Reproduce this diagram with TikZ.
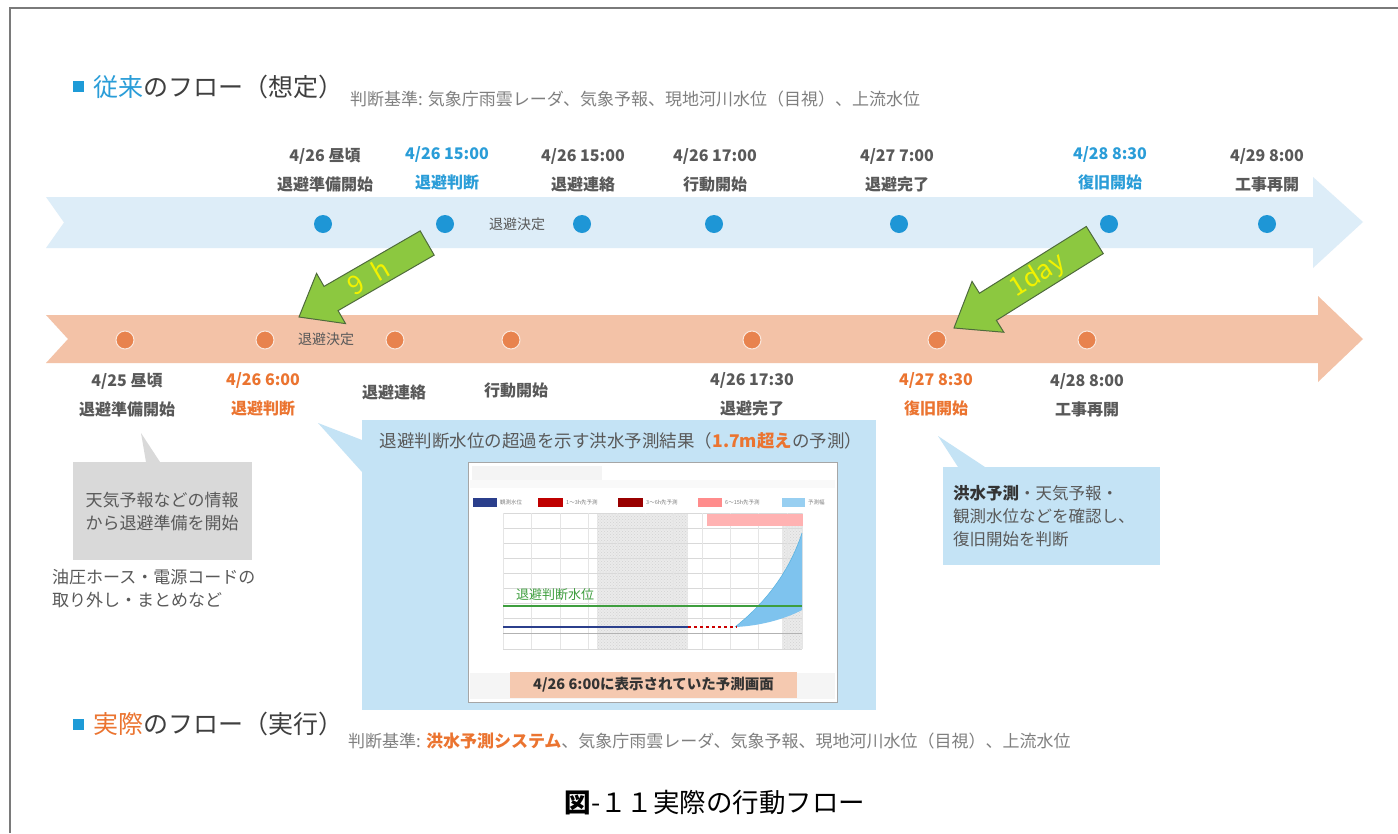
\documentclass[tikz,border=0pt]{standalone}
\usepackage{fontspec}
\setmainfont{Noto Sans CJK JP}
\usetikzlibrary{patterns}
\definecolor{hblue}{HTML}{2A9DD8}
\definecolor{dotblue}{HTML}{1E96D6}
\definecolor{bandblue}{HTML}{DDEDF8}
\definecolor{bandsalmon}{HTML}{F3C2A7}
\definecolor{dotorange}{HTML}{E8834E}
\definecolor{orng}{HTML}{EB7430}
\definecolor{txtgray}{HTML}{595959}
\definecolor{subgray}{HTML}{7F7F7F}
\definecolor{titlegray}{HTML}{3F3F3F}
\definecolor{callblue}{HTML}{C4E3F5}
\definecolor{callgray}{HTML}{D9D9D9}
\definecolor{garrowfill}{HTML}{8CC840}
\definecolor{garrowline}{HTML}{4F6B3C}
\definecolor{yel}{HTML}{F2F200}
\definecolor{framec}{HTML}{7A7A7A}
\definecolor{darktext}{HTML}{333333}
\definecolor{salmonlbl}{HTML}{F5C9B0}
\definecolor{chartgreen}{HTML}{3E9E3E}
\definecolor{navyline}{HTML}{2B3F8C}
\definecolor{fcblue}{HTML}{7EC3EE}
\definecolor{sqblue}{HTML}{1E9BD7}
\tikzset{
  bdot/.style={circle, fill=dotblue, minimum size=18pt, inner sep=0pt},
  odot/.style={circle, fill=dotorange, draw=white!60!bandsalmon, line width=1pt, minimum size=18pt, inner sep=0pt},
  lbl/.style={align=center, inner sep=0pt, font=\bfseries\fontsize{16}{29}\selectfont, text=txtgray},
  lblblue/.style={lbl, text=hblue},
  lblorange/.style={lbl, text=orng},
  bandtxt/.style={inner sep=0pt, font=\fontsize{14}{14}\selectfont, text=txtgray},
  titletxt/.style={anchor=west, inner sep=0pt, font=\fontsize{25}{25}\selectfont, text=titlegray},
  subt/.style={anchor=west, inner sep=0pt, font=\fontsize{17}{17}\selectfont, text=subgray},
  garrow/.style={fill=garrowfill, draw=garrowline, line width=1pt, line join=miter},
  glabel/.style={inner sep=0pt, font=\fontsize{26}{26}\selectfont, text=yel},
  tiny/.style={anchor=west, inner sep=0pt, font=\fontsize{5.5}{5.5}\selectfont, text=gray},
}
\begin{document}
\begin{tikzpicture}[x=1pt,y=-1pt]
\useasboundingbox (0,0) rectangle (1398,833);
\fill[white] (0,0) rectangle (1398,833);
\draw[framec, line width=1.5pt] (10,833) -- (10,8) -- (1398,8);

% ---------- titles ----------
\fill[sqblue] (73,81) rectangle (84,92);
\node[titletxt] (t1) at (93,87) {\textcolor{hblue}{従来}のフロー（想定）};
\node[subt] (s1) at (350,99) {判断基準: 気象庁雨雲レーダ、気象予報、現地河川水位（目視）、上流水位};

\fill[sqblue] (73,719) rectangle (84,730);
\node[titletxt] (t2) at (93,724) {\textcolor{orng}{実際}のフロー（実行）};
\node[subt] (s2) at (348,741) {判断基準: \textcolor{orng}{\bfseries 洪水予測システム}、気象庁雨雲レーダ、気象予報、現地河川水位（目視）、上流水位};

% ---------- bands ----------
\fill[bandblue] (46,197) -- (1313,197) -- (1313,177) -- (1363,222) -- (1313,268) -- (1313,248) -- (46,248) -- (64,222.5) -- cycle;
\fill[bandsalmon] (46,315) -- (1318,315) -- (1318,296) -- (1363,339) -- (1318,382) -- (1318,363) -- (46,363) -- (68,339) -- cycle;

% ---------- top row ----------
\foreach \x/\n in {323/1,445/2,582/3,714/4,899/5,1109/6,1267/7}
  \node[bdot] (td\n) at (\x,224) {};
\node[bandtxt] (tdec) at (517,224) {退避決定};
\node[lbl] (tl1) at (325,170.5) {4/26 昼頃\\退避準備開始};
\node[lblblue] (tl2) at (447,168.5) {4/26 15:00\\退避判断};
\node[lbl] (tl3) at (583,170.5) {4/26 15:00\\退避連絡};
\node[lbl] (tl4) at (715,170.5) {4/26 17:00\\行動開始};
\node[lbl] (tl5) at (897,170.5) {4/27 7:00\\退避完了};
\node[lblblue] (tl6) at (1110,168.5) {4/28 8:30\\復旧開始};
\node[lbl] (tl7) at (1267,170.5) {4/29 8:00\\工事再開};

% ---------- bottom row ----------
\foreach \x/\n in {125/1,265/2,395/3,511/4,752/5,937/6,1087/7}
  \node[odot] (bd\n) at (\x,340) {};
\node[bandtxt] (bdec) at (326,339) {退避決定};
\node[lbl] (bl1) at (127,395.5) {4/25 昼頃\\退避準備開始};
\node[lblorange] (bl2) at (263,394.5) {4/26 6:00\\退避判断};
\node[lbl] (bl3) at (394,392) {退避連絡};
\node[lbl] (bl4) at (516,390) {行動開始};
\node[lbl] (bl5) at (752,394.5) {4/26 17:30\\退避完了};
\node[lblorange] (bl6) at (936,394.5) {4/27 8:30\\復旧開始};
\node[lbl] (bl7) at (1087,395.5) {4/28 8:00\\工事再開};

% ---------- green arrows ----------
\begin{scope}[shift={(299,317)}, rotate=30]
  \filldraw[garrow] (0,0) -- (37,29) -- (37,14) -- (148,14) -- (148,-14) -- (37,-14) -- (37,-29) -- cycle;
  \node[glabel, rotate=30] (g1lbl) at (80,0) {9\enspace h};
\end{scope}
\begin{scope}[shift={(954,328)}, rotate=32]
  \filldraw[garrow] (0,0) -- (40,30) -- (40,16) -- (166,16) -- (166,-16) -- (40,-16) -- (40,-30) -- cycle;
  \node[glabel, rotate=32] (g2lbl) at (99,0) {1day};
\end{scope}

% ---------- left gray callout ----------
\fill[callgray] (141,433) -- (146,462) -- (160,462) -- cycle;
\node[fill=callgray, anchor=north west, minimum width=179pt, minimum height=98pt, inner sep=0pt] (lbox) at (73,462) {};
\node[align=center, inner sep=0pt, font=\fontsize{17}{23.5}\selectfont, text=txtgray] (ltext) at (162,511.5) {天気予報などの情報\\から退避準備を開始};
\node[anchor=north west, align=left, inner sep=0pt, font=\fontsize{17}{23}\selectfont, text=txtgray] (lnote) at (52,569) {油圧ホース・電源コードの\\取り外し・まとめなど};

% ---------- center blue callout ----------
\fill[callblue] (318,423) -- (362,440) -- (362,472) -- cycle;
\node[fill=callblue, anchor=north west, minimum width=514pt, minimum height=290pt, inner sep=0pt] (cbox) at (362,420) {};
\node[inner sep=0pt, font=\fontsize{17.5}{17.5}\selectfont, text=txtgray] (ctitle) at (621,441) {退避判断水位の超過を示す洪水予測結果（\textcolor{orng}{\bfseries 1.7m超え}の予測）};

% screenshot
\node[draw=gray!70, fill=white, anchor=north west, minimum width=369pt, minimum height=240pt, inner sep=0pt] (shot) at (468,462) {};
\fill[gray!9] (472,466) rectangle (602,480);
\fill[gray!5] (470,480) rectangle (835,488);
% legend
\fill[navyline] (473,498) rectangle (497,507);
\node[tiny] (lg1) at (500,502.5) {観測水位};
\fill[red!75!black] (538,498) rectangle (563,507);
\node[tiny] (lg2) at (566,502.5) {1～3h先予測};
\fill[red!60!black] (618,498) rectangle (643,507);
\node[tiny] (lg3) at (646,502.5) {3～6h先予測};
\fill[red!45] (698,498) rectangle (722,507);
\node[tiny] (lg4) at (725,502.5) {6～15h先予測};
\fill[fcblue!80] (782,498) rectangle (805,507);
\node[tiny] (lg5) at (808,502.5) {予測幅};
% plot area
\fill[gray!16] (597,513) rectangle (688,649);
\fill[pattern=crosshatch dots, pattern color=gray!35] (597,513) rectangle (688,649);
\fill[gray!16] (782,513) rectangle (802,649);
\fill[pattern=crosshatch dots, pattern color=gray!35] (782,513) rectangle (802,649);
\foreach \y in {513,528,543,558,573,588,603,618,633,649}
  \draw[gray!30, line width=0.5pt] (503,\y) -- (802,\y);
\foreach \x in {503,531,560,588,617,645,673,702,730,758,787,802}
  \draw[gray!20, line width=0.5pt] (\x,513) -- (\x,649);
\draw[gray!60, line width=0.6pt] (503,633) -- (802,633);
\fill[red!30] (707,514) rectangle (803,526);
\fill[fcblue] (735,627) .. controls (750,615) and (785,585) .. (802,533) -- (802,610) .. controls (785,619) and (760,626) .. (735,627) -- cycle;
\draw[hblue!80, line width=0.5pt] (735,627) .. controls (750,615) and (785,585) .. (802,533);
\draw[chartgreen, line width=1.3pt] (503,606) -- (802,606);
\node[anchor=west, inner sep=0pt, font=\fontsize{13}{13}\selectfont, text=chartgreen] (wl) at (516,595) {退避判断水位};
\draw[navyline, line width=1.3pt] (503,627) -- (688,627);
\draw[red!80!black, dashed, line width=1.3pt] (688,627) -- (737,627);
% label strip
\fill[gray!8] (470,673) rectangle (835,699);
\node[fill=salmonlbl, minimum width=287pt, minimum height=26pt, inner sep=0pt, font=\bfseries\fontsize{14.5}{14.5}\selectfont, text=darktext] (shotlbl) at (653.5,685) {4/26 6:00に表示されていた予測画面};

% ---------- right blue callout ----------
\fill[callblue] (938,436) -- (958,467) -- (985,467) -- cycle;
\node[fill=callblue, anchor=north west, minimum width=217pt, minimum height=98pt, inner sep=0pt] (rbox) at (943,467) {};
\node[anchor=north west, align=left, inner sep=0pt, font=\fontsize{16.5}{23}\selectfont, text=txtgray] (rtext) at (953,485) {\textcolor{darktext}{\bfseries 洪水予測}・天気予報・\\観測水位などを確認し、\\復旧開始を判断};

% ---------- caption ----------
\node[inner sep=0pt, font=\fontsize{26.5}{26.5}\selectfont, text=black] (cap) at (715,803) {\textbf{図}-１１実際の行動フロー};
\end{tikzpicture}
\end{document}
